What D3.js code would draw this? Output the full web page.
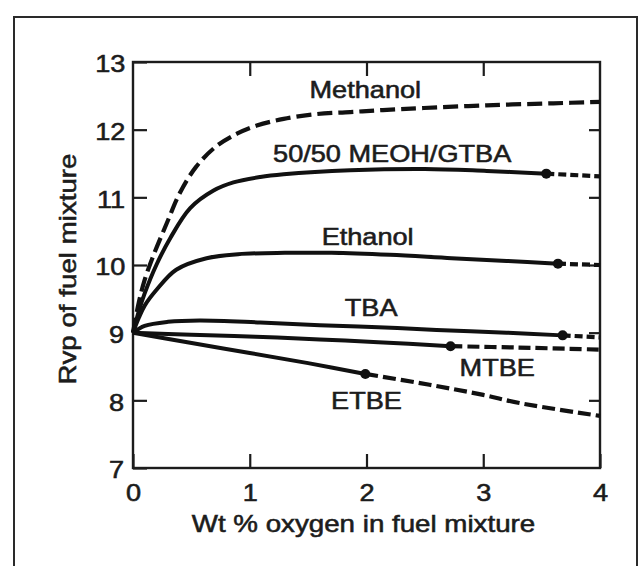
<!DOCTYPE html>
<html>
<head>
<meta charset="utf-8">
<script src="https://cdn.jsdelivr.net/npm/d3@7"></script>
<style>
  body { margin: 0; background: #fff; }
  svg text {
    font-family: "Liberation Sans", Arial, sans-serif;
    fill: #1c1c1c;
    stroke: #1c1c1c;
    stroke-width: 0.55px;
    transform-box: fill-box;
    transform-origin: center;
    transform: scaleX(1.18);
  }
</style>
</head>
<body>
<svg id="chart"></svg>
<script>
// axis ticks
const xTicks = [0, 1, 2, 3, 4];
const yTicks = [7, 8, 9, 10, 11, 12, 13];

// curves: [wt % oxygen, Rvp]
const methanol = [[0, 9.0], [0.05, 9.45], [0.1, 9.78], [0.17, 10.12], [0.29, 10.62], [0.4, 11.06],
  [0.54, 11.45], [0.71, 11.75], [0.89, 11.94], [1.06, 12.06], [1.29, 12.16], [1.57, 12.23],
  [1.86, 12.26], [2.14, 12.29], [2.49, 12.32], [3.03, 12.36], [3.6, 12.39], [4.0, 12.41]];

const meohGtbaSolid = [[0, 9.0], [0.05, 9.32], [0.1, 9.58], [0.2, 10.0], [0.32, 10.4], [0.49, 10.84],
  [0.69, 11.1], [0.86, 11.22], [1.09, 11.3], [1.29, 11.34], [1.86, 11.4], [2.5, 11.42],
  [3.03, 11.39], [3.54, 11.35]];
const meohGtbaDashed = [[3.54, 11.35], [4.0, 11.31]];

const ethanolSolid = [[0, 9.0], [0.05, 9.22], [0.1, 9.4], [0.2, 9.63], [0.37, 9.93], [0.63, 10.1],
  [0.9, 10.16], [1.3, 10.18], [1.7, 10.18], [2.2, 10.15], [2.73, 10.1], [3.2, 10.06], [3.64, 10.02]];
const ethanolDashed = [[3.64, 10.02], [4.0, 10.0]];

const tbaSolid = [[0, 9.0], [0.1, 9.1], [0.3, 9.16], [0.57, 9.18], [1.09, 9.15], [1.6, 9.11],
  [2.1, 9.08], [2.6, 9.04], [3.2, 9.0], [3.68, 8.96]];
const tbaDashed = [[3.68, 8.96], [4.0, 8.93]];

const mtbeSolid = [[0, 9.0], [0.5, 8.97], [1.05, 8.94], [1.6, 8.9], [2.1, 8.86], [2.72, 8.8]];
const mtbeDashed = [[2.72, 8.8], [3.3, 8.78], [4.0, 8.75]];

const etbeSolid = [[0, 9.0], [0.49, 8.85], [1.0, 8.7], [1.5, 8.55], [1.99, 8.39]];
const etbeDashed = [[1.99, 8.39], [2.54, 8.23], [3.0, 8.08], [3.31, 7.96], [4.0, 7.77]];

// curve names, placed in data units (x centre, baseline)
const curveLabels = [
  { text: "Methanol", x: 1.99, y: 12.47 },
  { text: "50/50 MEOH/GTBA", x: 2.22, y: 11.52 },
  { text: "Ethanol", x: 2.01, y: 10.3 },
  { text: "TBA", x: 2.04, y: 9.24 },
  { text: "MTBE", x: 3.12, y: 8.36 },
  { text: "ETBE", x: 2.0, y: 7.87 }
];

const width = 644, height = 566;
const margins = { top: 62, bottom: 98, left: 133, right: 44 };

const svg = d3.select("#chart").attr("width", width).attr("height", height);

// outer figure border (runs off the bottom of the scan)
svg.append("rect")
  .attr("x", 14).attr("y", 17)
  .attr("width", 623).attr("height", 620)
  .attr("fill", "none")
  .attr("stroke", "#2a2a2a")
  .attr("stroke-width", 2);

const xScale = d3.scaleLinear()
  .domain([0, 4])
  .range([margins.left, width - margins.right]);

const yScale = d3.scaleLinear()
  .domain([7, 13])
  .range([height - margins.bottom, margins.top]);

const tickLen = 14;

// left axis with labels, ticks pointing in
svg.append("g")
  .attr("class", "axis y-axis")
  .attr("transform", `translate(${margins.left},0)`)
  .call(d3.axisLeft(yScale).tickValues(yTicks).tickSizeInner(-tickLen).tickSizeOuter(0).tickPadding(10).tickFormat(d3.format("d")))
  .call(g => g.selectAll("text").attr("dy", "0.42em").attr("font-size", 23));

// bottom axis with labels
svg.append("g")
  .attr("class", "axis x-axis")
  .attr("transform", `translate(0,${height - margins.bottom})`)
  .call(d3.axisBottom(xScale).tickValues(xTicks).tickSizeInner(-tickLen).tickSizeOuter(0).tickPadding(17).tickFormat(d3.format("d")))
  .call(g => g.selectAll("text").attr("font-size", 23));

// top and right: ticks only
svg.append("g")
  .attr("transform", `translate(0,${margins.top})`)
  .call(d3.axisTop(xScale).tickValues(xTicks.slice(1, -1)).tickSizeInner(-tickLen).tickSizeOuter(0).tickFormat(""));

svg.append("g")
  .attr("transform", `translate(${width - margins.right},0)`)
  .call(d3.axisRight(yScale).tickValues(yTicks.slice(1, -1)).tickSizeInner(-11).tickSizeOuter(0).tickFormat(""));

svg.selectAll(".domain").remove();
svg.selectAll(".tick line").attr("stroke", "#1c1c1c").attr("stroke-width", 2.2);

// plot frame
svg.append("rect")
  .attr("x", xScale(0)).attr("y", yScale(13))
  .attr("width", xScale(4) - xScale(0))
  .attr("height", yScale(7) - yScale(13))
  .attr("fill", "none")
  .attr("stroke", "#1c1c1c")
  .attr("stroke-width", 2.4);

const line = d3.line()
  .x(d => xScale(d[0]))
  .y(d => yScale(d[1]))
  .curve(d3.curveCatmullRom.alpha(0.5));

const segments = [
  { pts: methanol, dash: "15,6", w: 4.2 },
  { pts: meohGtbaSolid, dash: null, w: 4 },
  { pts: meohGtbaDashed, dash: "8,4", w: 4.2 },
  { pts: ethanolSolid, dash: null, w: 4 },
  { pts: ethanolDashed, dash: "8,4", w: 4.2 },
  { pts: tbaSolid, dash: null, w: 4 },
  { pts: tbaDashed, dash: "8,4", w: 4.2 },
  { pts: mtbeSolid, dash: null, w: 4 },
  { pts: mtbeDashed, dash: "12,5", w: 4.2 },
  { pts: etbeSolid, dash: null, w: 4 },
  { pts: etbeDashed, dash: "13,5", w: 4.2 }
];

svg.append("g")
  .attr("class", "curves")
  .selectAll("path")
  .data(segments)
  .join("path")
  .attr("d", d => line(d.pts))
  .attr("fill", "none")
  .attr("stroke", "#111")
  .attr("stroke-width", d => d.w)
  .attr("stroke-dasharray", d => d.dash)
  .attr("stroke-linecap", "butt");

// dots where measured data ends and the extrapolation starts
const breakPoints = [meohGtbaDashed, ethanolDashed, tbaDashed, mtbeDashed, etbeDashed].map(s => s[0]);
svg.append("g")
  .selectAll("circle")
  .data(breakPoints)
  .join("circle")
  .attr("cx", d => xScale(d[0]))
  .attr("cy", d => yScale(d[1]))
  .attr("r", 5)
  .attr("fill", "#111");

svg.append("g")
  .attr("class", "curve-labels")
  .selectAll("text")
  .data(curveLabels)
  .join("text")
  .attr("x", d => xScale(d.x))
  .attr("y", d => yScale(d.y))
  .attr("text-anchor", "middle")
  .attr("font-size", 23)
  .text(d => d.text);

// axis titles
svg.append("text")
  .attr("x", (xScale(0) + xScale(4)) / 2 - 3)
  .attr("y", 532)
  .attr("text-anchor", "middle")
  .attr("font-size", 23.5)
  .text("Wt % oxygen in fuel mixture");

svg.append("g")
  .attr("transform", `translate(76,${(yScale(7) + yScale(13)) / 2 + 4}) rotate(-90)`)
  .append("text")
  .attr("text-anchor", "middle")
  .attr("font-size", 23.5)
  .text("Rvp of fuel mixture");
</script>
</body>
</html>
